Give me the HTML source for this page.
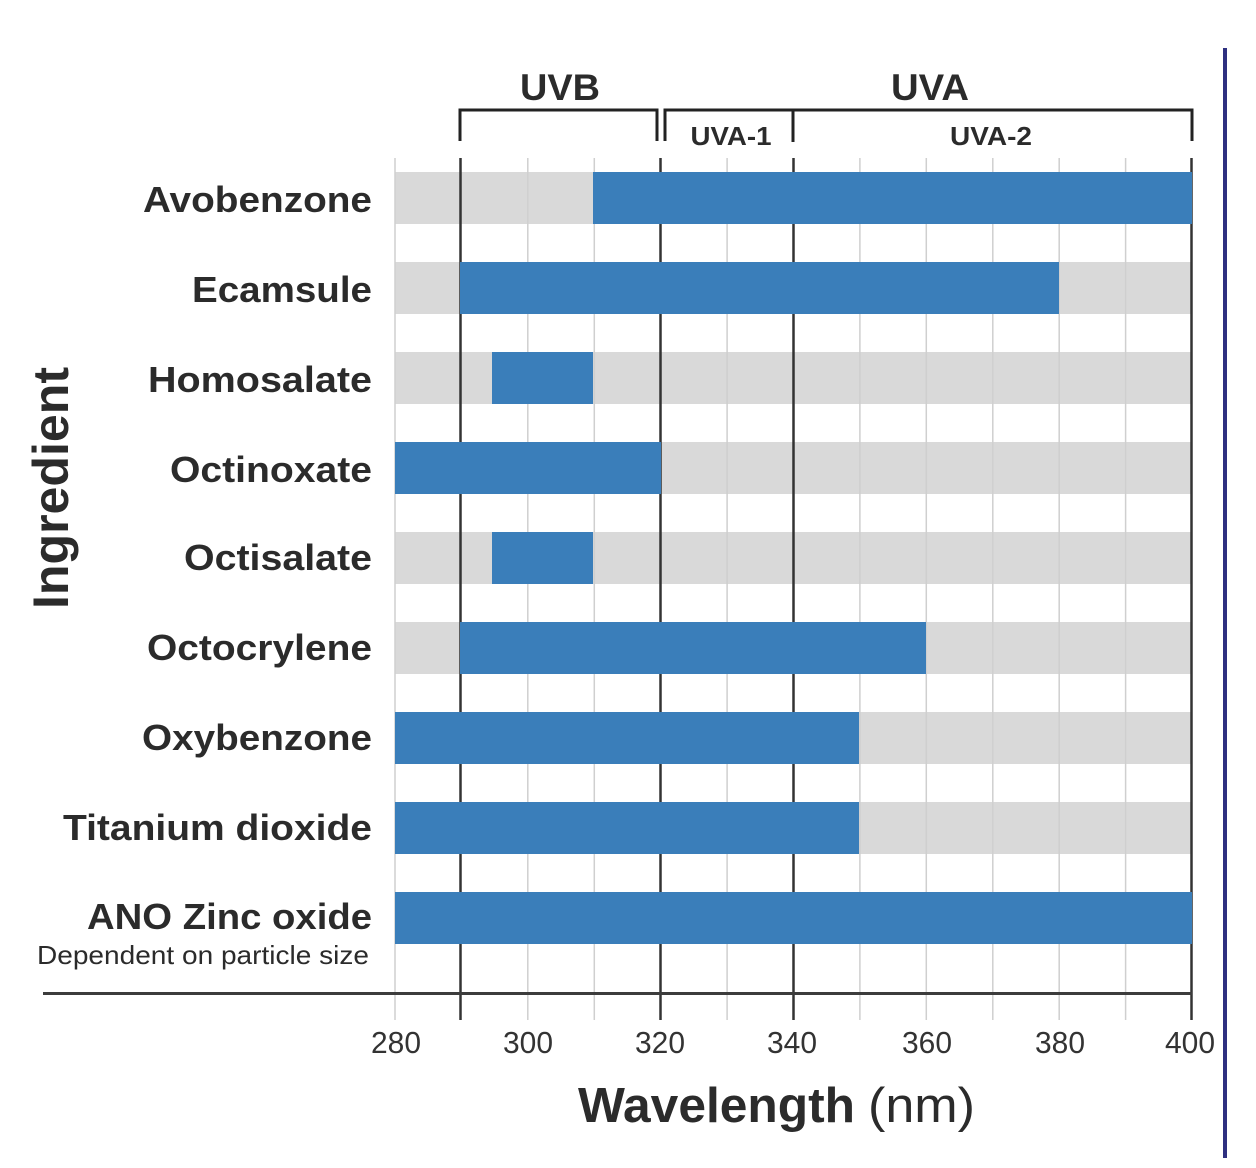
<!DOCTYPE html>
<html>
<head>
<meta charset="utf-8">
<style>
  html,body{margin:0;padding:0;background:#fff;}
  svg{display:block;}
  text{font-family:"Liberation Sans",Arial,sans-serif;fill:#2b2b2b;}
  .lbl{font-weight:bold;font-size:36px;}
  .tick{font-size:31px;fill:#333;}
</style>
</head>
<body>
<svg width="1256" height="1168" viewBox="0 0 1256 1168" xmlns="http://www.w3.org/2000/svg">
  <rect x="0" y="0" width="1256" height="1168" fill="#fff"/>

  <!-- gray bands -->
  <g fill="#d9d9d9">
    <rect x="395" y="172" width="797" height="52"/>
    <rect x="395" y="262" width="797" height="52"/>
    <rect x="395" y="352" width="797" height="52"/>
    <rect x="395" y="442" width="797" height="52"/>
    <rect x="395" y="532" width="797" height="52"/>
    <rect x="395" y="622" width="797" height="52"/>
    <rect x="395" y="712" width="797" height="52"/>
    <rect x="395" y="802" width="797" height="52"/>
    <rect x="395" y="892" width="797" height="52"/>
  </g>

  <!-- light gridlines -->
  <g stroke="#cfcfcf" stroke-width="1.5">
    <line x1="395" y1="158" x2="395" y2="1020"/>
    <line x1="527.8" y1="158" x2="527.8" y2="1020"/>
    <line x1="594.3" y1="158" x2="594.3" y2="1020"/>
    <line x1="727.1" y1="158" x2="727.1" y2="1020"/>
    <line x1="859.9" y1="158" x2="859.9" y2="1020"/>
    <line x1="926.3" y1="158" x2="926.3" y2="1020"/>
    <line x1="992.8" y1="158" x2="992.8" y2="1020"/>
    <line x1="1059.2" y1="158" x2="1059.2" y2="1020"/>
    <line x1="1125.6" y1="158" x2="1125.6" y2="1020"/>
  </g>
  <!-- dark gridlines -->
  <g stroke="#333" stroke-width="2.5">
    <line x1="460.5" y1="158" x2="460.5" y2="1020"/>
    <line x1="660.5" y1="158" x2="660.5" y2="1020"/>
    <line x1="793.5" y1="158" x2="793.5" y2="1020"/>
    <line x1="1191.5" y1="158" x2="1191.5" y2="1020"/>
  </g>

  <!-- blue bars -->
  <g fill="#3a7eba">
    <rect x="593" y="172" width="599" height="52"/>
    <rect x="460" y="262" width="599" height="52"/>
    <rect x="492" y="352" width="101" height="52"/>
    <rect x="395" y="442" width="266" height="52"/>
    <rect x="492" y="532" width="101" height="52"/>
    <rect x="460" y="622" width="466" height="52"/>
    <rect x="395" y="712" width="464" height="52"/>
    <rect x="395" y="802" width="464" height="52"/>
    <rect x="395" y="892" width="797" height="52"/>
  </g>

  <!-- axis line -->
  <line x1="43" y1="993.5" x2="1192" y2="993.5" stroke="#3c3c3c" stroke-width="3"/>

  <!-- brackets -->
  <g fill="none" stroke="#222" stroke-width="3">
    <path d="M460,141 V110 H657 V141"/>
    <path d="M665,141 V110 H1192 V141"/>
    <path d="M793,110 V142"/>
  </g>

  <!-- bracket labels -->
  <text x="560" y="100" text-anchor="middle" font-weight="bold" font-size="37" textLength="80" lengthAdjust="spacingAndGlyphs">UVB</text>
  <text x="930" y="100" text-anchor="middle" font-weight="bold" font-size="37" textLength="78" lengthAdjust="spacingAndGlyphs">UVA</text>
  <text x="731" y="145" text-anchor="middle" font-weight="bold" font-size="26" textLength="81" lengthAdjust="spacingAndGlyphs">UVA-1</text>
  <text x="991" y="145" text-anchor="middle" font-weight="bold" font-size="26" textLength="82" lengthAdjust="spacingAndGlyphs">UVA-2</text>

  <!-- row labels -->
  <text class="lbl" x="143" y="212" textLength="229" lengthAdjust="spacingAndGlyphs">Avobenzone</text>
  <text class="lbl" x="192" y="302" textLength="180" lengthAdjust="spacingAndGlyphs">Ecamsule</text>
  <text class="lbl" x="148" y="392" textLength="224" lengthAdjust="spacingAndGlyphs">Homosalate</text>
  <text class="lbl" x="170" y="482" textLength="202" lengthAdjust="spacingAndGlyphs">Octinoxate</text>
  <text class="lbl" x="184" y="570" textLength="188" lengthAdjust="spacingAndGlyphs">Octisalate</text>
  <text class="lbl" x="147" y="660" textLength="225" lengthAdjust="spacingAndGlyphs">Octocrylene</text>
  <text class="lbl" x="142" y="750" textLength="230" lengthAdjust="spacingAndGlyphs">Oxybenzone</text>
  <text class="lbl" x="63" y="840" textLength="309" lengthAdjust="spacingAndGlyphs">Titanium dioxide</text>
  <text class="lbl" x="87" y="929" textLength="285" lengthAdjust="spacingAndGlyphs">ANO Zinc oxide</text>
  <text x="37" y="964" font-size="26" fill="#3a3a3a" textLength="332" lengthAdjust="spacingAndGlyphs">Dependent on particle size</text>

  <!-- y-axis title -->
  <text transform="translate(68,609) rotate(-90)" x="0" y="0" font-weight="bold" font-size="50" textLength="242" lengthAdjust="spacingAndGlyphs">Ingredient</text>

  <!-- tick labels -->
  <text class="tick" x="396" y="1053" text-anchor="middle" textLength="50" lengthAdjust="spacingAndGlyphs">280</text>
  <text class="tick" x="528" y="1053" text-anchor="middle" textLength="50" lengthAdjust="spacingAndGlyphs">300</text>
  <text class="tick" x="660" y="1053" text-anchor="middle" textLength="50" lengthAdjust="spacingAndGlyphs">320</text>
  <text class="tick" x="792" y="1053" text-anchor="middle" textLength="50" lengthAdjust="spacingAndGlyphs">340</text>
  <text class="tick" x="927" y="1053" text-anchor="middle" textLength="50" lengthAdjust="spacingAndGlyphs">360</text>
  <text class="tick" x="1060" y="1053" text-anchor="middle" textLength="50" lengthAdjust="spacingAndGlyphs">380</text>
  <text class="tick" x="1190" y="1053" text-anchor="middle" textLength="50" lengthAdjust="spacingAndGlyphs">400</text>

  <!-- x-axis title -->
  <text x="578" y="1122" font-size="49" font-weight="bold" textLength="277" lengthAdjust="spacingAndGlyphs">Wavelength</text>
  <text x="868" y="1122" font-size="49" fill="#333" textLength="107" lengthAdjust="spacingAndGlyphs">(nm)</text>

  <!-- right purple border -->
  <rect x="1223" y="48" width="4" height="1110" fill="#2e3080"/>
</svg>
</body>
</html>
